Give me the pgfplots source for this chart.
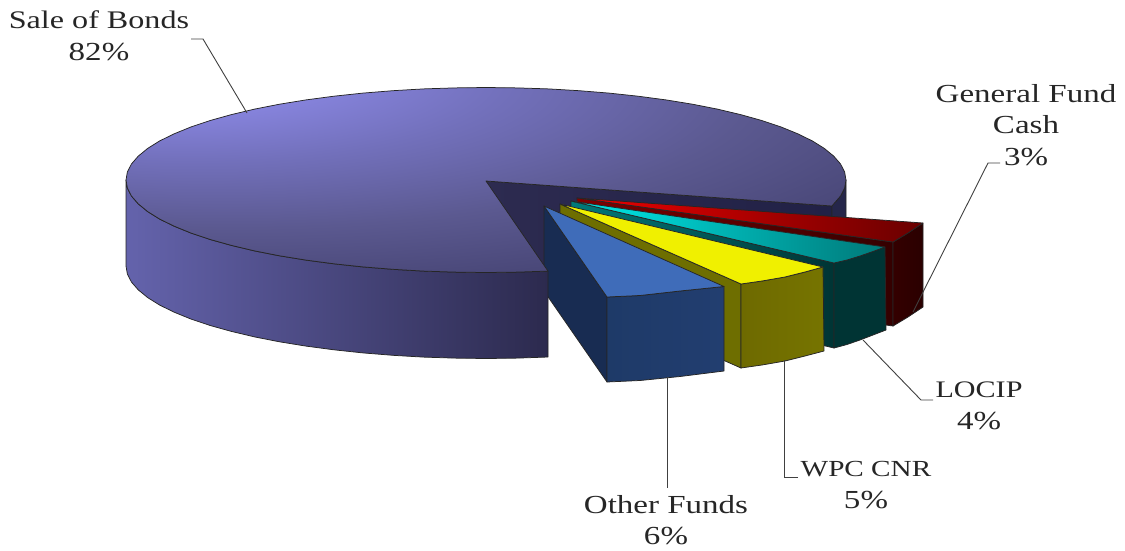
\documentclass[border=0pt]{standalone}
\usepackage{fontspec}
\setmainfont[FakeStretch=1.27]{Liberation Serif}
\usepackage{pgfplots}
\pgfplotsset{compat=1.18}
\pgfdeclareradialshading{pietop}{\pgfpoint{-25bp}{33bp}}{%
 rgb(0bp)=(0.549,0.541,0.910);rgb(12bp)=(0.525,0.514,0.863);rgb(22bp)=(0.447,0.439,0.733);rgb(36bp)=(0.357,0.349,0.565);rgb(55bp)=(0.247,0.239,0.416);rgb(120bp)=(0.247,0.239,0.416)}
\definecolor{cutL}{HTML}{2D2B50}\definecolor{cutR}{HTML}{212146}\definecolor{backw}{HTML}{25264A}
\definecolor{redWL}{HTML}{800000}\definecolor{redWR}{HTML}{340000}\definecolor{redFL}{HTML}{340000}\definecolor{redFR}{HTML}{2A0000}
\definecolor{redTL}{HTML}{F00000}\definecolor{redTR}{HTML}{690000}
\definecolor{cyWL}{HTML}{007A7A}\definecolor{cyWR}{HTML}{003434}\definecolor{cyF}{HTML}{003434}\definecolor{cyTL}{HTML}{00EBEB}\definecolor{cyTR}{HTML}{007878}
\definecolor{yeW}{HTML}{6E6E00}\definecolor{yeFL}{HTML}{6E6A00}\definecolor{yeFR}{HTML}{767400}\definecolor{yeT}{HTML}{F0F000}
\definecolor{blW}{HTML}{182C52}\definecolor{blFL}{HTML}{1E3A68}\definecolor{blFR}{HTML}{223E70}\definecolor{blT}{HTML}{3F6CB9}
\definecolor{sideL}{HTML}{6463AC}\definecolor{sideM}{HTML}{464474}\definecolor{sideR}{HTML}{2C2A4E}
\newcommand{\fs}[1]{\fontsize{#1}{31.5}\selectfont}
\tikzset{
  edge/.style={draw=black!85, line width=0.75pt, line join=round},
  leader/.style={draw=black!75, line width=0.9pt},
  lab/.style={font=\fontsize{26}{31.5}\selectfont, align=center, text=black!85, inner sep=0pt},
}
\begin{document}
\begin{tikzpicture}
\useasboundingbox (0,0) rectangle (1125pt,550pt);
\begin{axis}[
  at={(0,0)}, anchor=south west,
  scale only axis, width=1125pt, height=550pt,
  xmin=0, xmax=1125, ymin=0, ymax=550, y dir=reverse,
  axis lines=none, clip=false,
]
% cut wall and back wall of the large slice
\addplot[edge, left color=cutL, right color=cutR] coordinates {(486,181)(832,206)(832,292)(486,267)} --cycle;
\addplot[edge, fill=backw] coordinates {(832,206)(833.7,203.9)(840.5,196.1)(844.6,188.1)(846,180)(846,266)(832,292)} --cycle;
% General Fund Cash
\addplot[edge, left color=redWL, right color=redWR] coordinates {(577,198)(893,242)(893,326)(577,282)} --cycle;
\addplot[edge, left color=redFL, right color=redFR] coordinates {(893,242)(908,233)(923,223)(923,307)(908,317)(893,326)} --cycle;
\addplot[edge, left color=redTL, right color=redTR] coordinates {(577,198)(893,242)(908,233)(923,223)} --cycle;
% LOCIP
\addplot[edge, left color=cyWL, right color=cyWR] coordinates {(571,201)(834,263)(834,348)(571,286)} --cycle;
\addplot[edge, fill=cyF] coordinates {(834,263)(847,260)(860,256)(873,251.5)(885,247)(886,330)(873,335)(860,340)(847,344.5)(834,348)} --cycle;
\addplot[edge, left color=cyTL, right color=cyTR] coordinates {(571,201)(834,263)(847,260)(860,256)(873,251.5)(885,247)} --cycle;
% WPC CNR
\addplot[edge, fill=yeW] coordinates {(560,204)(741,284)(741,368)(560,288)} --cycle;
\addplot[edge, left color=yeFL, right color=yeFR] coordinates {(741,284)(762,281)(785,277)(805,272)(823,267)(824,351)(805,356)(785,361)(762,365)(741,368)} --cycle;
\addplot[edge, fill=yeT] coordinates {(560,204)(741,284)(762,281)(785,277)(805,272)(823,267)} --cycle;
% Other Funds
\addplot[edge, fill=blW] coordinates {(544,206)(607,297)(607,382)(544,291)} --cycle;
\addplot[edge, left color=blFL, right color=blFR] coordinates {(607,297)(640,295.5)(680,291)(724,286.5)(724,371)(680,376.5)(640,380.5)(607,382)} --cycle;
\addplot[edge, fill=blT] coordinates {(544,206)(607,297)(640,295.5)(680,291)(724,286.5)} --cycle;
% Sale of Bonds side
\addplot[edge, left color=sideL, middle color=sideM, right color=sideR] coordinates {(126,180)(127.4,188.1)(131.5,196.1)(138.3,203.9)(147.7,211.6)(159.7,219.1)(174.2,226.2)(191.1,233.1)(210.2,239.5)(231.4,245.4)(254.6,250.9)(279.5,255.8)(306,260.1)(333.9,263.8)(362.9,266.9)(392.8,269.3)(423.5,271.1)(454.6,272.1)(486,272.5)(517.4,272.1)(548,271.1)(548,357)(517.4,358.1)(486,358.5)(454.6,358.1)(423.5,357.1)(392.8,355.3)(362.9,352.9)(333.9,349.8)(306,346.1)(279.5,341.8)(254.6,336.9)(231.4,331.4)(210.2,325.5)(191.1,319.1)(174.2,312.2)(159.7,305.1)(147.7,297.6)(138.3,289.9)(131.5,282.1)(127.4,274.1)(126,266)} --cycle;
% Sale of Bonds top
\addplot[edge, shading=pietop] coordinates {(486,181)(832,206)(833.7,203.9)(840.5,196.1)(844.6,188.1)(846,180)(844.6,171.9)(840.5,163.9)(833.7,156.1)(824.3,148.4)(812.3,140.9)(797.8,133.8)(780.9,126.9)(761.8,120.5)(740.6,114.6)(717.4,109.1)(692.5,104.2)(666,99.9)(638.1,96.2)(609.1,93.1)(579.2,90.7)(548.5,88.9)(517.4,87.9)(486,87.5)(454.6,87.9)(423.5,88.9)(392.8,90.7)(362.9,93.1)(333.9,96.2)(306,99.9)(279.5,104.2)(254.6,109.1)(231.4,114.6)(210.2,120.5)(191.1,126.9)(174.2,133.8)(159.7,140.9)(147.7,148.4)(138.3,156.1)(131.5,163.9)(127.4,171.9)(126,180)(127.4,188.1)(131.5,196.1)(138.3,203.9)(147.7,211.6)(159.7,219.1)(174.2,226.2)(191.1,233.1)(210.2,239.5)(231.4,245.4)(254.6,250.9)(279.5,255.8)(306,260.1)(333.9,263.8)(362.9,266.9)(392.8,269.3)(423.5,271.1)(454.6,272.1)(486,272.5)(517.4,272.1)(548,271.1)} --cycle;
% leader lines
\addplot[leader] coordinates {(191,39)(203,39)(247,113)};
\addplot[leader] coordinates {(1000,163)(988,163)(913,312)};
\addplot[leader] coordinates {(933,400)(921,400)(863,340)};
\addplot[leader] coordinates {(798,477)(784,477)(784,360)};
\addplot[leader] coordinates {(667,377)(667,488)};
% labels
\node[lab] at (axis cs:99,36) {{\fs{25.3}Sale of Bonds}\\82\%};
\node[lab] at (axis cs:1026,125) {General Fund\\Cash\\3\%};
\node[lab] at (axis cs:979,406) {{\fs{23.7}LOCIP}\\4\%};
\node[lab] at (axis cs:866,485) {{\fs{23}WPC CNR}\\5\%};
\node[lab] at (axis cs:666,520) {Other Funds\\6\%};
\end{axis}
\end{tikzpicture}
\end{document}
